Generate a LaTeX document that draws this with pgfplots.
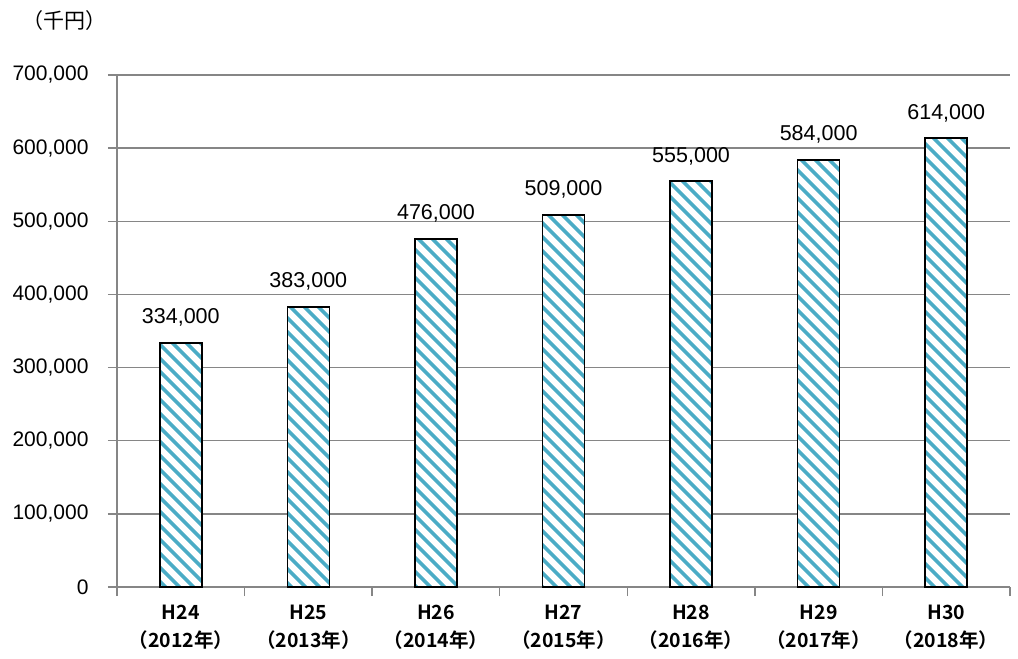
\documentclass[border=0pt]{standalone}
\usepackage{pgfplots}
\pgfplotsset{compat=1.18}
\usetikzlibrary{patterns.meta}
\usepackage{fontspec}
\setmainfont{Liberation Sans}
\newfontfamily\jpfont{Noto Sans CJK JP}[BoldFont={Noto Sans CJK JP Bold}]

\definecolor{stripe}{RGB}{75,172,198}
\definecolor{gridgray}{RGB}{134,134,134}

\begin{document}
\begin{tikzpicture}
\useasboundingbox (-117pt,-72pt) rectangle (901pt,587pt);
\begin{axis}[
  at={(0,0)}, anchor=south west,
  scale only axis, width=893pt, height=512pt,
  ymin=0, ymax=700000,
  ytick={0,100000,...,700000},
  minor ytick={0,100000,...,700000},
  scaled y ticks=false,
  xmin=-0.5, xmax=6.5,
  xtick={0,...,6},
  minor xtick={-0.5,0.5,...,6.5},
  xticklabels={{H24\\（2012年）},{H25\\（2013年）},{H26\\（2014年）},{H27\\（2015年）},{H28\\（2016年）},{H29\\（2017年）},{H30\\（2018年）}},
  xticklabel style={align=center, font=\jpfont\bfseries\fontsize{19.5}{28}\selectfont, yshift=-15pt},
  tick align=outside,
  major tick length=0pt,
  minor tick length=9pt,
  minor tick style={draw=gridgray, line width=1.3pt},
  yticklabel style={font=\fontsize{21}{25}\selectfont, xshift=-25pt},
  /pgf/number format/.cd, fixed, 1000 sep={,}, assume math mode=true, /pgfplots/.cd,
  axis x line*=bottom, axis y line*=left,
  axis line style={draw=gridgray, line width=1.3pt},
  ymajorgrids,
  major grid style={draw=gridgray, line width=1.3pt},
  ybar, bar width=42pt,
  nodes near coords,
  nodes near coords style={font=\fontsize{21.5}{25}\selectfont, anchor=south, yshift=12pt},
  clip=false,
]
\addplot[draw=black, line width=1.6pt, fill=white,
  postaction={pattern={Lines[angle=-45, distance=10.5pt, line width=4pt]}, pattern color=stripe}]
  coordinates {(0,334000) (1,383000) (2,476000) (3,509000) (4,555000) (5,584000) (6,614000)};
\node[font=\jpfont\fontsize{21}{24}\selectfont] at (rel axis cs:-0.059,1.107) {（千円）};
\end{axis}
\end{tikzpicture}
\end{document}
